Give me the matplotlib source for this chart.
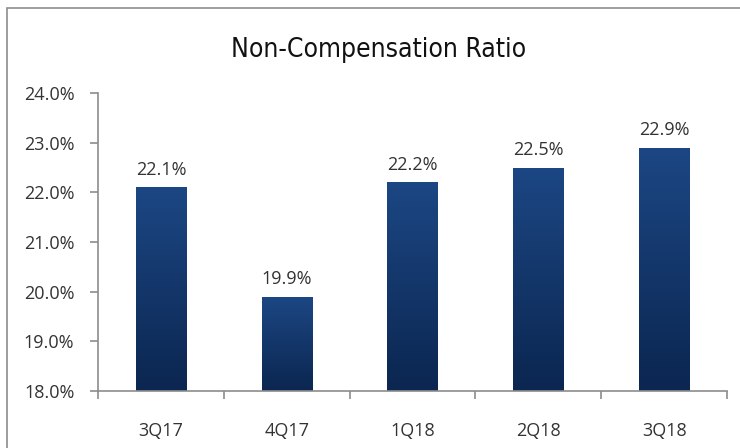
import matplotlib.pyplot as plt
import numpy as np
from matplotlib.colors import LinearSegmentedColormap
from matplotlib.patches import Rectangle

quarters = ['3Q17', '4Q17', '1Q18', '2Q18', '3Q18']
ratio = [22.1, 19.9, 22.2, 22.5, 22.9]
yticks = [18, 19, 20, 21, 22, 23, 24]

plt.rcParams['font.family'] = ['Open Sans', 'DejaVu Sans']
txt = '#333333'

fig = plt.figure(figsize=(7.4, 4.48), dpi=100)
ax = fig.add_axes([0.1324, 0.1272, 0.85, 0.6652])

# frame round the whole chart
fig.patches.append(Rectangle((7/740, -0.05), 1.2, 0.982 + 0.05, transform=fig.transFigure,
                             fill=False, edgecolor='#8c8c8c', lw=1.2))

cmap = LinearSegmentedColormap.from_list('navy', ['#0b2650', '#1c4784'])
grad = np.linspace(0, 1, 256).reshape(-1, 1)
x = np.arange(len(quarters))
bars = ax.bar(x, np.array(ratio) - 18, bottom=18, width=0.4, color='none', zorder=2)
for b, v in zip(bars, ratio):
    im = ax.imshow(grad, cmap=cmap, origin='lower', aspect='auto', zorder=2,
                   extent=[b.get_x(), b.get_x() + b.get_width(), 18, v])
    im.set_clip_path(b)
    ax.annotate(f'{v:.1f}%', (b.get_x() + b.get_width()/2, v), xytext=(0, 6),
                textcoords='offset points', ha='center', va='bottom',
                fontsize=13, color=txt)

ax.set_xlim(-0.5, len(quarters) - 0.5)
ax.set_ylim(18, 24)
ax.set_yticks(yticks)
ax.set_yticklabels([f'{t:.1f}%' for t in yticks], fontsize=13, color=txt)
ax.set_xticks(np.arange(len(quarters) + 1) - 0.5)
ax.set_xticklabels([])
ax.set_xticks(x, minor=True)
ax.set_xticklabels(quarters, minor=True, fontsize=13, color=txt)
ax.tick_params(axis='x', which='minor', length=0, pad=22)
ax.tick_params(axis='x', which='major', length=6, color='#8c8c8c', width=1.2)
ax.tick_params(axis='y', length=6, color='#8c8c8c', width=1.2, pad=11)
for s in ['top', 'right']:
    ax.spines[s].set_visible(False)
for s in ['left', 'bottom']:
    ax.spines[s].set_color('#8c8c8c')
    ax.spines[s].set_linewidth(1.2)

fig.text(0.511, 0.889, 'Non-Compensation Ratio', ha='center', va='center',
         fontsize=19, color='#111111', family=['DejaVu Sans'],
         fontstretch='condensed')

fig.savefig('out.png', dpi=100)
